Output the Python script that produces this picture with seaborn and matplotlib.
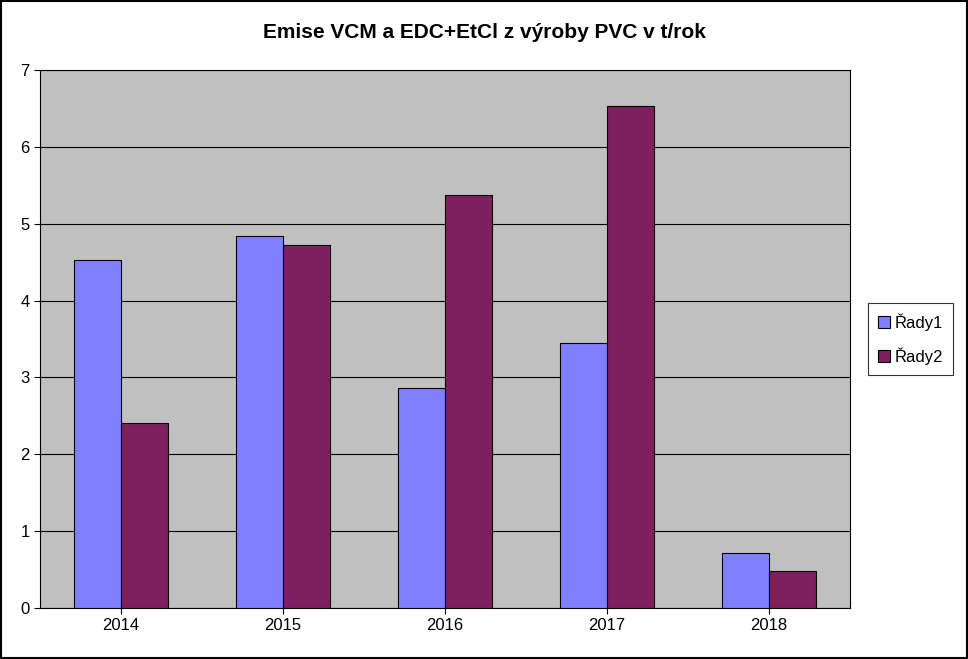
import matplotlib
matplotlib.use("Agg")
import matplotlib.pyplot as plt
import pandas as pd
import seaborn as sns

years = ["2014", "2015", "2016", "2017", "2018"]
rady1 = [4.53, 4.84, 2.86, 3.45, 0.72]
rady2 = [2.41, 4.72, 5.37, 6.53, 0.48]

df = pd.DataFrame({"year": years * 2,
                   "value": rady1 + rady2,
                   "series": ["Řady1"] * 5 + ["Řady2"] * 5})

plt.rcParams["font.family"] = "Liberation Sans"
fig = plt.figure(figsize=(9.68, 6.59), dpi=100)
ax = fig.add_axes([40 / 968, 1 - 608 / 659, 810 / 968, 538 / 659])
ax.set_facecolor("#C0C0C0")

sns.barplot(data=df, x="year", y="value", hue="series", ax=ax,
            palette=["#8080FF", "#7F1F5F"], width=0.58, saturation=1,
            edgecolor="black", linewidth=0.8, zorder=3)

ax.set_ylim(0, 7)
ax.set_yticks(range(8))
ax.grid(axis="y", color="black", linewidth=0.8, zorder=0)
ax.set_axisbelow(True)
for s in ax.spines.values():
    s.set_color("black")
    s.set_linewidth(0.8)
ax.tick_params(labelsize=12, colors="black", length=4)
ax.set_xlabel("")
ax.set_ylabel("")

leg = ax.legend(loc="center left", bbox_to_anchor=(1.012, 0.5), fontsize=12,
                frameon=True, fancybox=False, edgecolor="black",
                handlelength=0.7, handletextpad=0.3, borderpad=0.6,
                labelspacing=1.0)
leg.get_frame().set_linewidth(0.8)

fig.text(0.5, 1 - 32 / 659, "Emise VCM a EDC+EtCl z výroby PVC v t/rok",
         ha="center", va="center", fontsize=15, fontweight="bold")
fig.patches.append(plt.Rectangle((0.001, 0.001), 0.998, 0.998,
                                 transform=fig.transFigure, fill=False,
                                 edgecolor="black", linewidth=1.5))

fig.savefig("out.png", dpi=100)
